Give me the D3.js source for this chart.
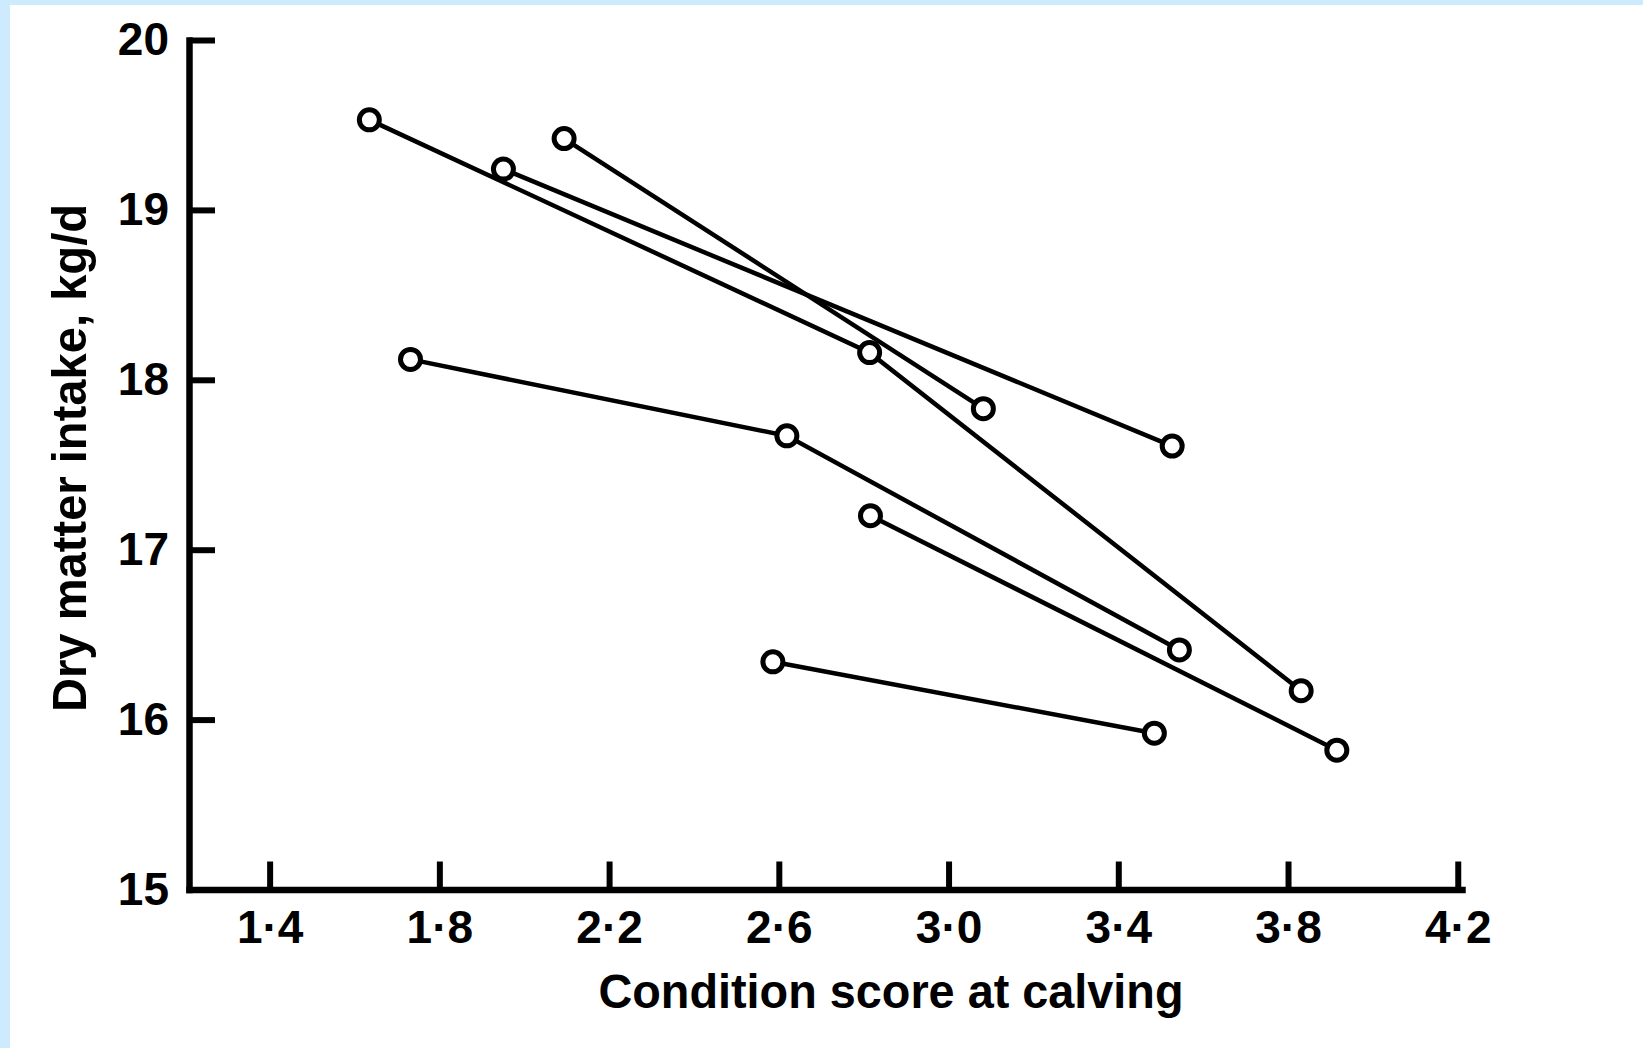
<!DOCTYPE html>
<html>
<head>
<meta charset="utf-8">
<script src="https://cdn.jsdelivr.net/npm/d3@7"></script>
<style>
  html, body { margin: 0; padding: 0; background: #ffffff; }
  svg { display: block; }
  text { font-family: 'Liberation Sans Narrow', 'Liberation Sans', Arial, sans-serif; font-weight: bold; fill: #000; }
</style>
</head>
<body>
<svg id="chart" width="1643" height="1048"></svg>
<script>
// Dry matter intake (kg/d) against body condition score at calving.
// Each experiment is one connected series of condition-score groups.
const seriesNames = ["Exp 1", "Exp 2", "Exp 3", "Exp 4", "Exp 5", "Exp 6"];
const conditionScores = [
  [1.635, 2.814, 3.831],
  [1.951, 3.527],
  [2.094, 3.082],
  [1.732, 2.619, 3.544],
  [2.816, 3.915],
  [2.586, 3.485]
];
const intakes = [
  [19.53, 18.16, 16.17],
  [19.24, 17.61],
  [19.42, 17.83],
  [18.12, 17.67, 16.41],
  [17.20, 15.82],
  [16.34, 15.92]
];
const xTickValues = [1.4, 1.8, 2.2, 2.6, 3.0, 3.4, 3.8, 4.2];
const yTickValues = [15, 16, 17, 18, 19, 20];
const xTitle = "Condition score at calving";
const yTitle = "Dry matter intake, kg/d";

const svg = d3.select("#chart");
const W = 1643, H = 1048;

// page frame
svg.append("rect").attr("width", W).attr("height", H).attr("fill", "#cdebfd");
svg.append("rect").attr("x", 10).attr("y", 5).attr("width", W - 10).attr("height", H - 5).attr("fill", "#ffffff");

const x = d3.scaleLinear().domain([1.21, 4.21]).range([189, 1462]);
const y = d3.scaleLinear().domain([15, 20]).range([889.5, 40]);

const fmt = d => d3.format(".1f")(d).replace(".", "\u00b7");

// x axis
const gx = svg.append("g")
  .attr("transform", `translate(0,${y(15)})`)
  .call(d3.axisBottom(x).tickValues(xTickValues).tickFormat(fmt)
        .tickSizeInner(-28).tickSizeOuter(0).tickPadding(21));

// y axis
const gy = svg.append("g")
  .attr("transform", `translate(${x(1.21)},0)`)
  .call(d3.axisLeft(y).tickValues(yTickValues).tickFormat(d3.format("d"))
        .tickSizeInner(-26).tickSizeOuter(0).tickPadding(20));

[gx, gy].forEach(g => {
  g.select(".domain").attr("stroke", "#000").attr("stroke-width", 6.5).attr("stroke-linecap", "square");
  g.selectAll(".tick line").attr("stroke", "#000").attr("stroke-width", 6);
  g.selectAll(".tick text").attr("font-size", 46).attr("fill", "#000")
    .style("font-family", "'Liberation Sans Narrow', 'Liberation Sans', Arial, sans-serif")
    .style("font-weight", "bold");
});
gy.selectAll(".tick").filter(d => d === 15).select("line").remove();

// axis titles
svg.append("text")
  .attr("x", 891).attr("y", 1008)
  .attr("text-anchor", "middle")
  .attr("font-size", 49)
  .attr("textLength", 585).attr("lengthAdjust", "spacingAndGlyphs")
  .text(xTitle);

svg.append("text")
  .attr("transform", "translate(86,458) rotate(-90)")
  .attr("text-anchor", "middle")
  .attr("font-size", 49)
  .attr("textLength", 508).attr("lengthAdjust", "spacingAndGlyphs")
  .text(yTitle);

// series
const series = seriesNames.map((name, i) => ({
  name,
  points: conditionScores[i].map((c, j) => ({ c, v: intakes[i][j] }))
}));

const line = d3.line().x(d => x(d.c)).y(d => y(d.v));

const gs = svg.append("g");
gs.selectAll("path.series")
  .data(series)
  .join("path")
  .attr("class", "series")
  .attr("d", d => line(d.points))
  .attr("fill", "none")
  .attr("stroke", "#000")
  .attr("stroke-width", 4.5);

gs.selectAll("circle")
  .data(series.flatMap(s => s.points))
  .join("circle")
  .attr("cx", d => x(d.c))
  .attr("cy", d => y(d.v))
  .attr("r", 10)
  .attr("fill", "#fff")
  .attr("stroke", "#000")
  .attr("stroke-width", 5);
</script>
</body>
</html>
